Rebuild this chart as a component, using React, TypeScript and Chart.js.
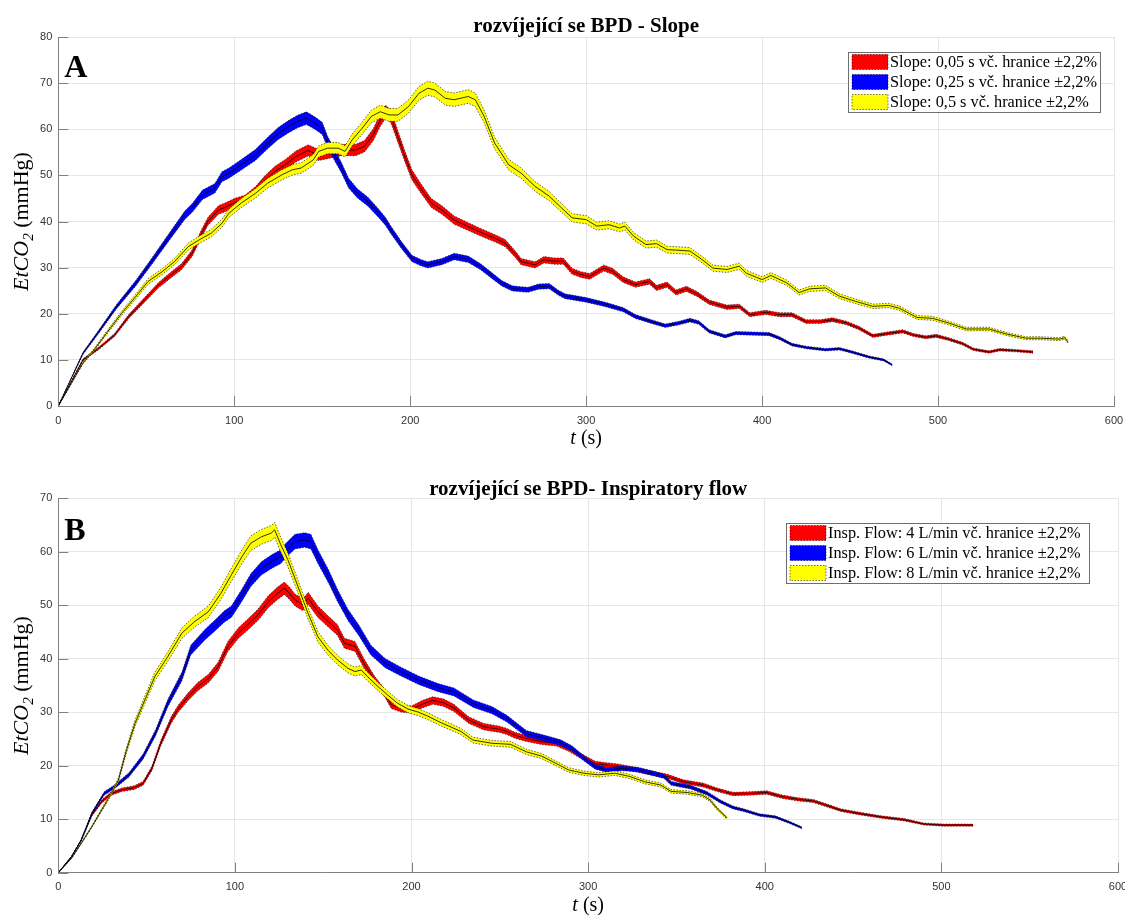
import React, { useEffect, useRef } from "react";
import { Chart, registerables } from "chart.js";

Chart.register(...registerables);

// ---------- Data (t in s, EtCO2 in mmHg) ----------
const BAND = 0.022;

// Panel A – Slope
const slopeA_005: [number, number][] = [
  [0, 0], [14, 10], [23, 12.5], [32, 15.4], [40, 19.4], [49, 23], [57, 26.2], [64, 28.4], [70, 30.2],
  [76, 33.1], [81, 37.1], [85, 40], [91, 42.5], [95, 43.1], [100, 44], [106, 44.7], [112, 46.5],
  [117, 48.7], [123, 50.8], [129, 52.3], [135, 54.1], [142, 55.4], [148, 54.4], [155, 55], [161, 55.5],
  [169, 55.5], [174, 56.3], [179, 58.8], [183, 62], [186, 63.8], [189, 62.8], [193, 58.4], [197, 54.1],
  [201, 50.1], [206, 47.2], [212, 44], [218, 42.5], [225, 40.3], [233, 38.9], [241, 37.5], [248, 36.4],
  [254, 35.3], [260, 32.8], [263, 31.3], [271, 30.6], [276, 31.7], [282, 31.4], [287, 31.4], [292, 29.2],
  [297, 28.5], [302, 28.1], [310, 29.9], [315, 29.2], [321, 27.4], [328, 26.3], [336, 27], [340, 25.6],
  [346, 26.3], [351, 24.6], [357, 25.4], [363, 24.3], [370, 22.5], [380, 21.4], [387, 21.6], [393, 19.8],
  [402, 20.3], [410, 19.8], [417, 19.8], [425, 18.3], [433, 18.3], [440, 18.7], [448, 18], [455, 16.9],
  [463, 15.2], [471, 15.7], [480, 16.2], [486, 15.4], [493, 14.9], [499, 15.2], [506, 14.5], [514, 13.5],
  [520, 12.3], [529, 11.7], [535, 12.2], [544, 12], [554, 11.7],
];
const slopeA_025: [number, number][] = [
  [0, 0], [14, 11.4], [23, 16.1], [33, 21.5], [44, 26.6], [53, 31.3], [62.5, 36.4], [72, 41.4], [76, 42.9],
  [82, 45.8], [89, 47.2], [93, 49.7], [97, 50.5], [104, 52.3], [112, 54.4], [119, 57], [125, 59.1],
  [131, 60.6], [136, 61.7], [141, 62.4], [146, 61.3], [150, 60.2], [153, 57.3], [157, 54.4], [161, 51.6],
  [165, 48.3], [170, 46.1], [176, 44.3], [182, 41.8], [186, 40], [189, 38.2], [195, 34.9], [201, 32],
  [206, 31.1], [210, 30.6], [218, 31.3], [225, 32.4], [233, 31.8], [240, 30.2], [246, 28.4], [252, 26.6],
  [258, 25.5], [263, 25.3], [267, 25.2], [273, 25.9], [279, 26], [284, 24.6], [288, 23.8], [300, 23],
  [311, 22], [321, 20.9], [328, 19.4], [338, 18.2], [345, 17.4], [353, 18], [359, 18.6], [364, 18.1],
  [370, 16.2], [379, 15.1], [385, 15.8], [395, 15.7], [404, 15.6], [410, 14.7], [417, 13.3], [425, 12.7],
  [436, 12.2], [444, 12.4], [451, 11.7], [461, 10.6], [469, 10], [474, 8.9],
];
const slopeA_05: [number, number][] = [
  [0, 0], [14, 9.3], [21, 12.5], [28, 16.1], [36, 20.1], [44, 23.7], [51, 27], [59, 29.1], [66, 31.3],
  [74, 34.6], [80, 36], [87, 37.5], [93, 39.6], [97, 41.8], [104, 44], [112, 46.1], [119, 48.3],
  [127, 50.1], [133, 51.2], [138, 51.6], [142, 52.6], [145, 53.4], [148, 55.2], [153, 55.9], [159, 55.9],
  [163, 55.2], [167, 57.7], [172, 59.9], [178, 62.8], [183, 63.8], [188, 63.1], [193, 63.1], [199, 64.9],
  [205, 67.8], [210, 68.9], [214, 68.5], [220, 66.7], [225, 66.4], [233, 67.1], [237, 66.4], [242, 62.8],
  [248, 57], [256, 52.3], [263, 50.5], [271, 47.6], [279, 45.5], [287, 42.6], [292, 40.8], [300, 40.4],
  [306, 39], [313, 39.3], [319, 38.6], [322, 39], [327, 36.8], [334, 35], [340, 35.2], [346, 33.9],
  [351, 33.8], [359, 33.6], [366, 31.7], [372, 29.9], [380, 29.6], [387, 30.3], [391, 28.8], [400, 27.4],
  [405, 28.3], [414, 26.7], [421, 24.6], [427, 25.4], [436, 25.6], [444, 23.8], [453, 22.7], [463, 21.6],
  [472, 21.8], [478, 21.2], [488, 19.2], [497, 19], [506, 18], [516, 16.7], [529, 16.7], [539, 15.6],
  [550, 14.7], [558, 14.7], [569, 14.5], [572, 14.8], [574, 13.8],
];

// Panel B – Inspiratory flow
const flowB_4: [number, number][] = [
  [0, 0], [7.5, 3], [13, 6.1], [19, 10.8], [24.5, 13.3], [30, 14.8], [36, 15.5], [43, 15.9], [48, 16.7],
  [53, 19.5], [58, 24.2], [64, 28.6], [68, 30.7], [73.5, 32.9], [79, 34.8], [85, 36.3], [90.5, 38.5],
  [96, 42.3], [102, 44.8], [107, 46.3], [113, 48.2], [119, 50.7], [124, 52.2], [128, 53.2], [131, 52.2],
  [134, 51], [138.5, 50.1], [141.5, 51.3], [147, 48.8], [153, 46.9], [158, 45.4], [162, 42.9], [168, 42.3],
  [173, 39.2], [179, 36], [185, 33.5], [188.5, 31.4], [194, 30.7], [200, 30.5], [206, 31.5], [212, 32.2],
  [218, 31.8], [224, 30.8], [232.5, 28.5], [241, 27.3], [250, 26.8], [254, 26.4], [258.5, 25.7],
  [265, 25.1], [273.6, 24.5], [282, 24.2], [289, 23.2], [295, 22], [304, 20.4], [310.5, 20.1], [317, 19.9],
  [328, 19.2], [336.5, 18.6], [345, 18], [354, 17], [365, 16.4], [373, 15.5], [382, 14.7], [391, 14.8],
  [401, 15], [410, 14.2], [419, 13.7], [427.5, 13.4], [434, 12.7], [443, 11.7], [453, 11.1], [466, 10.4],
  [479, 9.9], [490, 9.1], [501, 8.9], [512, 8.9], [518, 8.9],
];
const flowB_6: [number, number][] = [
  [0, 0], [7.5, 3], [13, 6.1], [19, 11.1], [26, 14.8], [32, 16.1], [40, 18.3], [48, 21.7], [55, 26.1],
  [62, 31.7], [70, 36.7], [75, 41.6], [83, 44.5], [89, 46.3], [94, 47.9], [98, 48.8], [104, 51.9],
  [109, 54.7], [115, 56.9], [121, 58.2], [126, 59.1], [129, 60.3], [134, 61.9], [139.5, 62.2], [143, 61.9],
  [147, 59.1], [153, 55.4], [158, 51.9], [164, 48.2], [170, 45.4], [177, 41.6], [185, 39.2], [194, 37.6],
  [204, 36], [215, 34.6], [224, 33.8], [235, 31.6], [245.5, 30.4], [254, 28.8], [265, 26], [276, 25.1],
  [284.5, 24.3], [291, 23.2], [297.5, 21.4], [304, 19.8], [310.5, 19.2], [319, 19.5], [328, 19.3],
  [336.5, 18.6], [343, 18], [347, 16.7], [358, 16], [367, 14.9], [375, 13.3], [382, 12.2], [388, 11.7],
  [397, 10.8], [406, 10.4], [414, 9.4], [421, 8.4],
];
const flowB_8: [number, number][] = [
  [0, 0], [7.5, 2.7], [13, 5.5], [19, 8.6], [24.5, 11.7], [30, 14.8], [34, 17.3], [38.6, 22.9], [43.4, 27.9],
  [49, 32.3], [54.7, 36.7], [62, 40.4], [70, 44.8], [77, 46.9], [85, 48.8], [92, 52.2], [98, 55.7],
  [104, 59.1], [109, 61.6], [115, 62.8], [120.6, 63.5], [122.5, 64.1], [126, 61.3], [130, 58.5],
  [135.7, 53.5], [141.4, 48.5], [147, 44.1], [152.7, 41.6], [158, 39.8], [164, 38.2], [168, 37.6],
  [171.5, 37.9], [175, 36.7], [181, 34.8], [186.6, 33.2], [192, 31.7], [198, 30.6], [204, 30], [209, 29.3],
  [217, 28], [224, 27], [228, 26.4], [234.7, 24.8], [245.5, 24.2], [256, 24], [265, 22.6], [273.6, 21.8],
  [282, 20.4], [289, 19.2], [297.5, 18.6], [306, 18.3], [315, 18.6], [323.5, 18], [332, 17], [341, 16.4],
  [347, 15.2], [356, 15], [364.6, 14.5], [369, 13.6], [373, 12], [378.7, 10.2],
];

const xTicksMax = 600;
const yMaxA = 80;
const yMaxB = 70;

const titleA = "rozvíjející se BPD - Slope";
const titleB = "rozvíjející se BPD- Inspiratory flow";
const labelsA = [
  "Slope: 0,05 s vč. hranice ±2,2%",
  "Slope: 0,25 s vč. hranice ±2,2%",
  "Slope: 0,5 s vč. hranice ±2,2%",
];
const labelsB = [
  "Insp. Flow: 4 L/min vč. hranice ±2,2%",
  "Insp. Flow: 6 L/min vč. hranice ±2,2%",
  "Insp. Flow: 8 L/min vč. hranice ±2,2%",
];
const colors = ["#ff0000", "#0000ff", "#ffff00"];

// ---------- helpers ----------
function bandDatasets(series: [number, number][], color: string, orderBase: number) {
  const lower = series.map(([x, y]) => ({ x, y: y * (1 - BAND) }));
  const upper = series.map(([x, y]) => ({ x, y: y * (1 + BAND) }));
  const center = series.map(([x, y]) => ({ x, y }));
  const edge = {
    borderColor: "rgba(0,0,0,0.75)",
    borderWidth: 0.8,
    borderDash: [1.5, 1.5],
    fill: false,
    pointRadius: 0,
  };
  return [
    { data: lower, borderColor: "rgba(0,0,0,0)", borderWidth: 0, pointRadius: 0, fill: false, order: orderBase + 4 },
    { data: upper, borderColor: "rgba(0,0,0,0)", borderWidth: 0, pointRadius: 0, fill: "-1", backgroundColor: color, order: orderBase + 3 },
    { data: lower, ...edge, order: orderBase + 2 },
    { data: upper, ...edge, order: orderBase + 1 },
    { data: center, borderColor: "#000", borderWidth: 0.8, pointRadius: 0, fill: false, order: orderBase },
  ];
}

type Run = { text: string; font: string; dy?: number };
function drawRuns(ctx: CanvasRenderingContext2D, runs: Run[], cx: number, cy: number) {
  let total = 0;
  const widths = runs.map((r) => {
    ctx.font = r.font;
    const w = ctx.measureText(r.text).width;
    total += w;
    return w;
  });
  let x = cx - total / 2;
  ctx.textAlign = "left";
  runs.forEach((r, i) => {
    ctx.font = r.font;
    ctx.fillText(r.text, x, cy + (r.dy || 0));
    x += widths[i];
  });
}

const SERIF = '"Liberation Serif", "Times New Roman", serif';
const SANS = '"Liberation Sans", Arial, sans-serif';

type Deco = {
  title: string;
  titleY: number;
  letter: string;
  letterY: number;
  xLabelY: number;
  legend: string[];
  legX: number;
  legY: number;
  legW: number;
};

function decoPlugin(d: Deco) {
  return {
    id: "deco",
    afterDraw(chart: any) {
      const ctx: CanvasRenderingContext2D = chart.ctx;
      const ca = chart.chartArea;
      const xs = chart.scales.x;
      const ys = chart.scales.y;
      ctx.save();
      // inward tick marks
      ctx.strokeStyle = "#808080";
      ctx.lineWidth = 1;
      ctx.setLineDash([]);
      ctx.beginPath();
      xs.ticks.forEach((t: any) => {
        const px = Math.round(xs.getPixelForValue(t.value)) + 0.5;
        ctx.moveTo(px, ca.bottom);
        ctx.lineTo(px, ca.bottom - 10);
      });
      ys.ticks.forEach((t: any) => {
        const py = Math.round(ys.getPixelForValue(t.value)) + 0.5;
        ctx.moveTo(ca.left, py);
        ctx.lineTo(ca.left + 10, py);
      });
      ctx.stroke();

      const cx = (ca.left + ca.right) / 2;
      ctx.fillStyle = "#000";
      ctx.textBaseline = "alphabetic";
      // title
      ctx.font = `bold 21px ${SERIF}`;
      ctx.textAlign = "center";
      ctx.fillText(d.title, cx, d.titleY);
      // panel letter
      ctx.font = `bold 32px ${SERIF}`;
      ctx.textAlign = "left";
      ctx.fillText(d.letter, ca.left + 6, d.letterY);
      // x label
      drawRuns(
        ctx,
        [
          { text: "t", font: `italic 20px ${SERIF}` },
          { text: " (s)", font: `20px ${SERIF}` },
        ],
        cx,
        d.xLabelY
      );
      // y label
      ctx.save();
      ctx.translate(28, (ca.top + ca.bottom) / 2);
      ctx.rotate(-Math.PI / 2);
      drawRuns(
        ctx,
        [
          { text: "EtCO", font: `italic 22px ${SERIF}` },
          { text: "2", font: `italic 15px ${SERIF}`, dy: 5 },
          { text: " (mmHg)", font: `22px ${SERIF}` },
        ],
        0,
        0
      );
      ctx.restore();

      // legend
      const h = 60;
      ctx.fillStyle = "#fff";
      ctx.fillRect(d.legX, d.legY, d.legW, h);
      ctx.strokeStyle = "#6e6e6e";
      ctx.lineWidth = 1;
      ctx.strokeRect(Math.round(d.legX) + 0.5, Math.round(d.legY) + 0.5, d.legW, h);
      d.legend.forEach((lab, i) => {
        const rowC = d.legY + 10.5 + i * 20;
        ctx.fillStyle = colors[i];
        ctx.fillRect(d.legX + 4, rowC - 7.5, 36, 15);
        ctx.strokeStyle = "rgba(0,0,0,0.7)";
        ctx.setLineDash([1.5, 1.5]);
        ctx.lineWidth = 0.8;
        ctx.strokeRect(d.legX + 4, rowC - 7.5, 36, 15);
        ctx.setLineDash([]);
        ctx.fillStyle = "#000";
        ctx.font = `16.3px ${SERIF}`;
        ctx.textAlign = "left";
        ctx.textBaseline = "middle";
        ctx.fillText(lab, d.legX + 42, rowC + 1);
      });
      ctx.restore();
    },
  };
}

function makeConfig(
  series: [number, number][][],
  yMax: number,
  padTop: number,
  padRight: number,
  xAxisH: number,
  deco: Deco
): any {
  const datasets: any[] = [];
  series.forEach((s, i) => {
    datasets.push(...bandDatasets(s, colors[i], (series.length - 1 - i) * 10));
  });
  const tickFont = { family: SANS, size: 11 };
  return {
    type: "line",
    data: { datasets },
    options: {
      animation: false,
      responsive: false,
      devicePixelRatio: 1,
      layout: { padding: { top: padTop, right: padRight, left: 0, bottom: 0 } },
      plugins: { legend: { display: false }, title: { display: false }, tooltip: { enabled: false } },
      elements: { point: { radius: 0 }, line: { tension: 0 } },
      scales: {
        x: {
          type: "linear",
          min: 0,
          max: xTicksMax,
          ticks: { stepSize: 100, padding: 8, color: "#333", font: tickFont, maxRotation: 0, autoSkip: false },
          grid: { color: "#e6e6e6", drawTicks: false },
          border: { color: "#808080" },
          afterFit: (s: any) => {
            s.height = xAxisH;
            s.paddingRight = 0;
            s.paddingLeft = 0;
          },
        },
        y: {
          type: "linear",
          min: 0,
          max: yMax,
          ticks: { stepSize: 10, padding: 6, color: "#333", font: tickFont },
          grid: { color: "#e6e6e6", drawTicks: false },
          border: { color: "#808080" },
          afterFit: (s: any) => {
            s.width = 58.3;
            s.paddingTop = 0;
            s.paddingBottom = 0;
          },
        },
      },
    },
    plugins: [decoPlugin(deco)],
  };
}

function Panel(props: { config: () => any; width: number; height: number; top: number }) {
  const ref = useRef<HTMLCanvasElement | null>(null);
  useEffect(() => {
    if (!ref.current) return;
    const chart = new Chart(ref.current, props.config());
    return () => chart.destroy();
  }, []);
  return (
    <canvas
      ref={ref}
      width={props.width}
      height={props.height}
      style={{ position: "absolute", left: 0, top: props.top, width: props.width, height: props.height }}
    />
  );
}

export default function App() {
  const cfgA = () =>
    makeConfig([slopeA_005, slopeA_025, slopeA_05], yMaxA, 37, 11, 49, {
      title: titleA,
      titleY: 32,
      letter: "A",
      letterY: 77,
      xLabelY: 444,
      legend: labelsA,
      legX: 848,
      legY: 51.5,
      legW: 252,
    });
  const cfgB = () =>
    makeConfig([flowB_4, flowB_6, flowB_8], yMaxB, 43.3, 7, 42.3, {
      title: titleB,
      titleY: 40,
      letter: "B",
      letterY: 85,
      xLabelY: 456,
      legend: labelsB,
      legX: 786,
      legY: 67.5,
      legW: 303,
    });
  return (
    <div style={{ position: "absolute", left: 0, top: 0, width: 1125, height: 915, background: "#fff" }}>
      <Panel config={cfgA} width={1125} height={455} top={0} />
      <Panel config={cfgB} width={1125} height={460} top={455} />
    </div>
  );
}
